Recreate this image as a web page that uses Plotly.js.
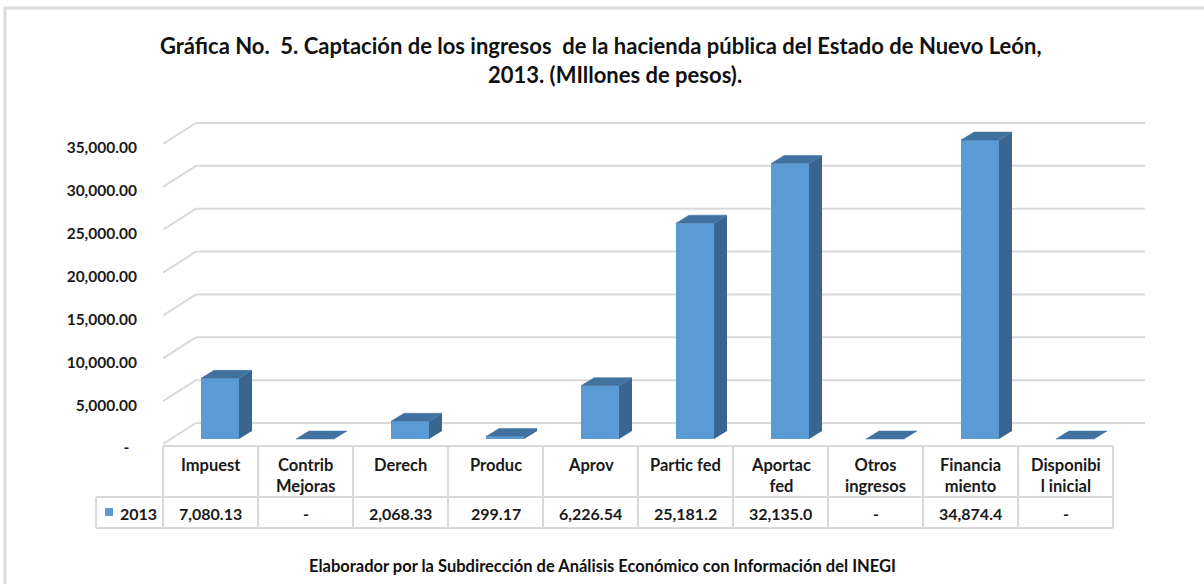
<!DOCTYPE html>
<html>
<head>
<meta charset="utf-8">
<script src="https://cdn.plot.ly/plotly-3.0.1.min.js"></script>
<style>html,body{margin:0;padding:0;background:#fff;}#chart{width:1204px;height:584px;}</style>
</head>
<body>
<div id="chart"></div>
<script>
// ---- data ----
var categories = ["Impuest", "Contrib<br>Mejoras", "Derech", "Produc", "Aprov", "Partic fed", "Aportac<br>fed", "Otros<br>ingresos", "Financia<br>miento", "Disponibi<br>l inicial"];
var values2013 = [7080.13, 0, 2068.33, 299.17, 6226.54, 25181.2, 32135.0, 0, 34874.4, 0];
var valueLabels = ["7,080.13", "-", "2,068.33", "299.17", "6,226.54", "25,181.2", "32,135.0", "-", "34,874.4", "-"];
var seriesName = "2013";
var yTicks = [0, 5000, 10000, 15000, 20000, 25000, 30000, 35000];
var yTickLabels = ["-\u00a0\u00a0", "5,000.00", "10,000.00", "15,000.00", "20,000.00", "25,000.00", "30,000.00", "35,000.00"];
var titleLine1 = "Gráfica No.  5. Captación de los ingresos  de la hacienda pública del Estado de Nuevo León,";
var titleLine2 = "2013. (MIllones de pesos).";
var footer = "Elaborador por la Subdirección de Análisis Económico con Información del INEGI";

// ---- geometry (pixels) ----
var W = 1204, H = 584;
var PL = 163, PR = 1145, PT = 100, PB = 530;   // plot area
var COLW = 95;                                  // category column width
var ZERO_PX = 439;                              // bar base (pixel)
var K = 300 / 35000;                            // px per unit
var FRONT_OFF = -5 / K, BACK_OFF = 16 / K;      // floor front/back relative to bar base
var DEPTH_X = 33 / COLW;                        // floor depth in x units
var BAR_DX = 13 / COLW, BAR_DY = 8 / K;         // bar depth
var BAR_SHIFT = 0.1, BAR_W = 0.4;
var LABEL_OFF = -9 / K;

var nCat = categories.length;
var xMin = -0.5, xMax = nCat - 0.5 + (PR - (PL + nCat * COLW)) / COLW;
var yMin = (ZERO_PX - PB) / K, yMax = (ZERO_PX - PT) / K;
function px2px(p) { return (p - PL) / (PR - PL); }
function py2py(p) { return (PB - p) / (PB - PT); }

var cFront = "#5B9BD5", cSide = "#3A6590", cTop = "#41719F", cGrid = "#D9D9D9";
var font = "Lato, 'Open Sans', sans-serif";

var traces = [];
var xs = values2013.map(function (v, i) { return i + BAR_SHIFT; });
traces.push({
  type: "bar", x: xs, y: values2013, width: BAR_W, name: seriesName,
  marker: { color: cFront, line: { width: 0 } }, hoverinfo: "skip", showlegend: false
});
values2013.forEach(function (v, i) {
  var l = i + BAR_SHIFT - BAR_W / 2, r = i + BAR_SHIFT + BAR_W / 2;
  if (v > 0) {
    traces.push({
      type: "scatter", mode: "lines", fill: "toself", fillcolor: cSide,
      x: [r, r + BAR_DX, r + BAR_DX, r, r], y: [0, BAR_DY, v + BAR_DY, v, 0],
      line: { width: 0, color: cSide }, hoverinfo: "skip", showlegend: false
    });
  }
  traces.push({
    type: "scatter", mode: "lines", fill: "toself", fillcolor: cTop,
    x: [l, r, r + BAR_DX, l + BAR_DX, l], y: [v, v, v + BAR_DY, v + BAR_DY, v],
    line: { width: 0.5, color: cTop }, hoverinfo: "skip", showlegend: false
  });
});

var shapes = [];
// back wall gridlines + slanted side lines
yTicks.forEach(function (t) {
  shapes.push({ type: "line", xref: "x", yref: "y", layer: "below",
    x0: xMin, y0: t + FRONT_OFF, x1: xMin + DEPTH_X, y1: t + BACK_OFF, line: { color: cGrid, width: 2 } });
  shapes.push({ type: "line", xref: "x", yref: "y", layer: "below",
    x0: xMin + DEPTH_X, y0: t + BACK_OFF, x1: xMax, y1: t + BACK_OFF, line: { color: cGrid, width: 2 } });
});
// data table
var T_TOP = 446, T_MID = 497, T_BOT = 528, LEG_L = 96;
var tRight = PL + nCat * COLW;
function hline(x0, x1, y) {
  shapes.push({ type: "line", xref: "paper", yref: "paper", x0: px2px(x0), x1: px2px(x1), y0: py2py(y), y1: py2py(y), line: { color: cGrid, width: 2 } });
}
function vline(x, y0, y1) {
  shapes.push({ type: "line", xref: "paper", yref: "paper", x0: px2px(x), x1: px2px(x), y0: py2py(y0), y1: py2py(y1), line: { color: cGrid, width: 2 } });
}
hline(PL, tRight, T_TOP); hline(LEG_L, tRight, T_MID); hline(LEG_L, tRight, T_BOT);
vline(LEG_L, T_MID, T_BOT);
for (var k = 0; k <= nCat; k++) vline(PL + k * COLW, T_TOP, T_BOT);
// legend key
shapes.push({ type: "rect", xref: "paper", yref: "paper", x0: px2px(105), x1: px2px(113), y0: py2py(508), y1: py2py(516), fillcolor: cFront, line: { width: 0 } });
// outer chart border
shapes.push({ type: "rect", xref: "paper", yref: "paper", x0: px2px(5), x1: px2px(1215), y0: py2py(8), y1: py2py(600), line: { color: "#DADADA", width: 3 } });

var tf = { family: font, size: 16.5, color: "#1a1a1a", weight: "bold" };
var annotations = [];
categories.forEach(function (c, i) {
  annotations.push({ xref: "x", yref: "paper", x: i, y: py2py(453), yanchor: "top", xanchor: "center",
    text: c, showarrow: false, font: tf });
  annotations.push({ xref: "x", yref: "paper", x: i, y: py2py(513), yanchor: "middle", xanchor: "center",
    text: valueLabels[i], showarrow: false, font: { family: font, size: 16, color: "#1a1a1a", weight: "bold" } });
});
annotations.push({ xref: "paper", yref: "paper", x: px2px(118), y: py2py(513), xanchor: "left", yanchor: "middle",
  text: seriesName, showarrow: false, font: { family: font, size: 16, color: "#1a1a1a", weight: "bold" } });
annotations.push({ xref: "paper", yref: "paper", x: px2px(601), y: py2py(45), xanchor: "center", yanchor: "middle",
  text: titleLine1, showarrow: false, font: { family: font, size: 22, color: "#111", weight: "bold" } });
annotations.push({ xref: "paper", yref: "paper", x: px2px(615), y: py2py(75), xanchor: "center", yanchor: "middle",
  text: titleLine2, showarrow: false, font: { family: font, size: 22, color: "#111", weight: "bold" } });
annotations.push({ xref: "paper", yref: "paper", x: px2px(602), y: py2py(566), xanchor: "center", yanchor: "middle",
  text: footer, showarrow: false, font: { family: font, size: 16.5, color: "#111", weight: "bold" } });

var layout = {
  width: W, height: H, paper_bgcolor: "#fff", plot_bgcolor: "rgba(0,0,0,0)",
  margin: { l: PL, r: W - PR, t: PT, b: H - PB, pad: 0 },
  showlegend: false,
  xaxis: { range: [xMin, xMax], showgrid: false, zeroline: false, showticklabels: false, ticks: "", fixedrange: true },
  yaxis: { range: [yMin, yMax], showgrid: false, zeroline: false, tickmode: "array",
    tickvals: yTicks.map(function (t) { return t + LABEL_OFF; }), ticktext: yTickLabels,
    ticks: "outside", ticklen: 22, tickcolor: "rgba(0,0,0,0)",
    tickfont: { family: font, size: 15.5, color: "#1a1a1a", weight: "bold" }, fixedrange: true },
  shapes: shapes, annotations: annotations
};
Plotly.newPlot("chart", traces, layout, { displayModeBar: false, staticPlot: true });
</script>
</body>
</html>
